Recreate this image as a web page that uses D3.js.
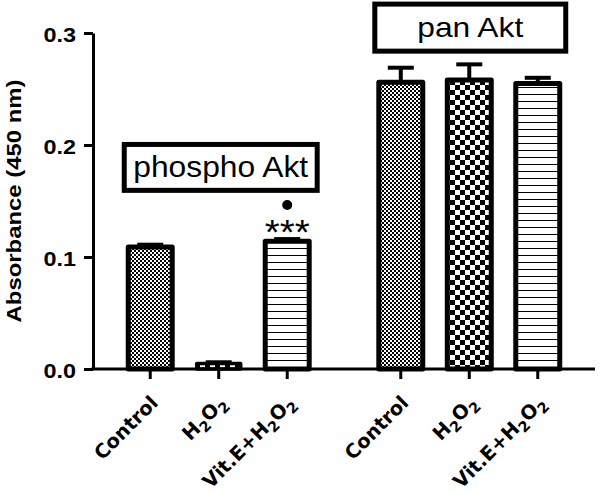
<!DOCTYPE html>
<html>
<head>
<meta charset="utf-8">
<script src="https://cdn.jsdelivr.net/npm/d3@7/dist/d3.min.js"></script>
<style>
  html, body { margin: 0; padding: 0; background: #fff; }
  svg { display: block; font-family: "Liberation Sans", Arial, sans-serif; }
</style>
</head>
<body>
<svg id="chart" width="600" height="493"></svg>
<script>
// ---- data ----
const groups = ["phospho Akt", "pan Akt"];
const categories = ["Control", "H2O2", "Vit.E+H2O2"];
const phosphoValues = [0.109, 0.005, 0.114];
const phosphoErrors = [0.002, 0.001, 0.002];
const panValues = [0.256, 0.258, 0.255];
const panErrors = [0.013, 0.014, 0.005];
const phosphoMarks = ["", "", "***"];
const yTicks = [0, 0.1, 0.2, 0.3];
const yTitle = "Absorbance (450 nm)";

const seriesByGroup = {
  "phospho Akt": { values: phosphoValues, errors: phosphoErrors, marks: phosphoMarks },
  "pan Akt": { values: panValues, errors: panErrors, marks: ["", "", ""] }
};

const svg = d3.select("#chart");
const axisX = 93, axisRight = 595;
const y = d3.scaleLinear().domain([0, 0.3]).range([369, 33]);
const x0 = d3.scaleBand().domain(groups).range([116, 572]).paddingInner(0.18);
const x1 = d3.scaleBand().domain(categories).range([0, x0.bandwidth()]).paddingInner(0.358).paddingOuter(0.179);
const xc = (g, c) => x0(g) + x1(c) + x1.bandwidth() / 2;
const SX = 1.2; // horizontal stretch of the tick text in the picture

// ---- patterns ----
const defs = svg.append("defs");
const pC = defs.append("pattern").attr("id", "pat-Control").attr("patternUnits", "userSpaceOnUse").attr("width", 4).attr("height", 4);
pC.append("rect").attr("width", 4).attr("height", 4).attr("fill", "#fff");
pC.append("rect").attr("x", 0).attr("y", 0).attr("width", 2).attr("height", 2).attr("fill", "#000");
pC.append("rect").attr("x", 2).attr("y", 2).attr("width", 2).attr("height", 2).attr("fill", "#000");
const pH = defs.append("pattern").attr("id", "pat-H2O2").attr("patternUnits", "userSpaceOnUse").attr("width", 10).attr("height", 10);
pH.append("rect").attr("width", 10).attr("height", 10).attr("fill", "#fff");
pH.append("rect").attr("x", 0).attr("y", 0).attr("width", 5).attr("height", 5).attr("fill", "#000");
pH.append("rect").attr("x", 5).attr("y", 5).attr("width", 5).attr("height", 5).attr("fill", "#000");
const pV = defs.append("pattern").attr("id", "pat-Vit").attr("patternUnits", "userSpaceOnUse").attr("width", 10).attr("height", 7);
pV.append("rect").attr("width", 10).attr("height", 7).attr("fill", "#fff");
pV.append("rect").attr("x", 0).attr("y", 3).attr("width", 10).attr("height", 1).attr("fill", "#000");
const patOf = { "Control": "pat-Control", "H2O2": "pat-H2O2", "Vit.E+H2O2": "pat-Vit" };

// ---- flat data ----
const rows = [];
groups.forEach(g => categories.forEach((c, i) => rows.push({
  g, c, v: seriesByGroup[g].values[i], e: seriesByGroup[g].errors[i], m: seriesByGroup[g].marks[i]
})));

// ---- bars ----
svg.append("g").selectAll("rect").data(rows).join("rect")
  .attr("x", d => x0(d.g) + x1(d.c))
  .attr("y", d => y(d.v))
  .attr("width", x1.bandwidth())
  .attr("height", d => y(0) - y(d.v))
  .attr("fill", d => `url(#${patOf[d.c]})`)
  .attr("stroke", "#000").attr("stroke-width", d => (y(0) - y(d.v) < 10 ? 3.5 : 5)).attr("stroke-linejoin", "round");

// ---- error bars ----
const eb = svg.append("g").attr("stroke", "#000").attr("stroke-width", 4);
eb.selectAll("line.v").data(rows).join("line").attr("class", "v")
  .attr("x1", d => xc(d.g, d.c)).attr("x2", d => xc(d.g, d.c))
  .attr("y1", d => y(d.v)).attr("y2", d => y(d.v + d.e));
eb.selectAll("line.c").data(rows).join("line").attr("class", "c")
  .attr("x1", d => xc(d.g, d.c) - 13).attr("x2", d => xc(d.g, d.c) + 13)
  .attr("y1", d => y(d.v + d.e)).attr("y2", d => y(d.v + d.e));

// ---- significance marks ----
rows.filter(d => d.m).forEach(d => {
  const t = svg.append("text").text(d.m).attr("font-size", 36).attr("text-anchor", "middle");
  const w = t.node().getComputedTextLength();
  t.attr("transform", `translate(${xc(d.g, d.c)},${y(d.v + d.e) + 5}) scale(${45 / w},1)`);
  svg.append("circle").attr("cx", xc(d.g, d.c)).attr("cy", y(d.v + d.e) - 34).attr("r", 5).attr("fill", "#000");
});

// ---- y axis ----
const yAxis = svg.append("g").attr("transform", `translate(${axisX},0)`)
  .call(d3.axisLeft(y).tickValues(yTicks).tickFormat(d3.format(".1f")).tickSize(9).tickSizeOuter(0).tickPadding(8));
yAxis.attr("font-family", null).attr("font-size", null);
yAxis.select(".domain").attr("stroke-width", 3);
yAxis.selectAll(".tick line").attr("stroke-width", 3);
yAxis.selectAll(".tick text")
  .attr("font-size", 19.5).attr("font-weight", "bold").attr("fill", "#000")
  .each(function () {
    const t = d3.select(this);
    const xx = +t.attr("x");
    t.attr("x", 0).attr("dy", "0.42em").attr("transform", `translate(${xx},0) scale(${SX},1)`);
  });

// ---- x axis ----
svg.append("line").attr("x1", axisX - 1.5).attr("x2", axisRight).attr("y1", y(0)).attr("y2", y(0))
  .attr("stroke", "#000").attr("stroke-width", 3);
svg.append("g").selectAll("line").data(rows).join("line")
  .attr("x1", d => xc(d.g, d.c)).attr("x2", d => xc(d.g, d.c))
  .attr("y1", y(0)).attr("y2", y(0) + 10)
  .attr("stroke", "#000").attr("stroke-width", 3);

// x labels (rotated 45°, digits as subscripts)
rows.forEach(d => {
  const t = svg.append("text").attr("font-size", 19.5).attr("font-weight", "bold")
    .style("font-family", "'DejaVu Sans', sans-serif").attr("text-anchor", "end");
  let sub = false;
  d.c.split(/(\d)/).filter(s => s.length).forEach(s => {
    if (/^\d$/.test(s)) {
      t.append("tspan").text(s).attr("font-size", 14.5).attr("dy", sub ? 0 : 5);
      sub = true;
    } else {
      t.append("tspan").text(s).attr("dy", sub ? -5 : 0);
      sub = false;
    }
  });
  t.attr("transform", `translate(${xc(d.g, d.c) + 9},${y(0) + 35}) rotate(-45)`);
});

// ---- y title ----
{
  const t = svg.append("text").text(yTitle).attr("font-size", 20).attr("font-weight", "bold").attr("text-anchor", "middle");
  const w = t.node().getComputedTextLength();
  t.attr("transform", `translate(21,${(y(0) + y(0.3)) / 2}) rotate(-90) scale(${243 / w},1)`);
}

// ---- group label boxes ----
const boxSpec = {
  "phospho Akt": { top: 0.2005, bottom: 0.1595, fs: 29, tw: 175, extraRight: 4 },
  "pan Akt": { top: 0.3258, bottom: 0.2838, fs: 28, tw: 106, extraRight: 2 }
};
groups.forEach(g => {
  const s = boxSpec[g];
  const left = x0(g) + x1(categories[0]) - 4;
  const right = x0(g) + x1(categories[2]) + x1.bandwidth() + s.extraRight + 4;
  const top = y(s.top), bottom = y(s.bottom);
  svg.append("rect").attr("x", left).attr("y", top).attr("width", right - left).attr("height", bottom - top)
    .attr("fill", "#fff").attr("stroke", "#000").attr("stroke-width", 5);
  const t = svg.append("text").text(g).attr("font-size", s.fs).attr("text-anchor", "middle");
  const w = t.node().getComputedTextLength();
  const cy = (top + bottom) / 2;
  t.attr("transform", `translate(${(left + right) / 2},${cy + s.fs * 0.33}) scale(${s.tw / w},1)`);
});
</script>
</body>
</html>
